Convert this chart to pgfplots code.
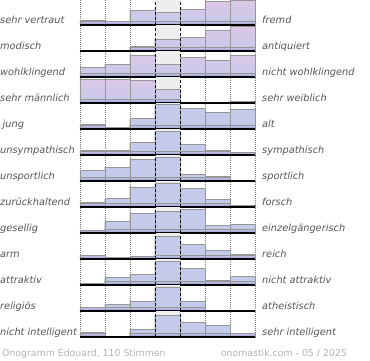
\documentclass[border=0pt]{standalone}
\usepackage{pgfplots}
\pgfplotsset{compat=1.18}
\usepackage{fontspec}
\setmainfont{DejaVu Sans}
\definecolor{centerbg}{RGB}{238,238,238}
\definecolor{barblue}{RGB}{196,202,234}
\definecolor{barpink}{RGB}{224,198,230}
\definecolor{stripe}{RGB}{150,140,198}
\definecolor{edge}{RGB}{150,150,150}
\definecolor{dotc}{RGB}{120,120,120}
\definecolor{lbl}{RGB}{85,85,85}
\definecolor{foot}{RGB}{178,178,178}
\newcommand{\lblfont}{\fontsize{9.8}{11}\selectfont\itshape}
\pgfplotsset{rowax/.style={anchor=south west, width=175pt, height=26pt, scale only axis,
  xmin=0, xmax=7, ymin=0, ymax=26, axis line style={draw=none}, xtick=\empty, ytick=\empty,
  clip=false}}
\newcommand{\rowaxis}[5]{%
\begin{axis}[rowax, at={(80pt,-#1pt)}]
 \fill[centerbg] (axis cs:3,0) rectangle (axis cs:4,26);
 \draw[dotc, dash pattern=on 0.8pt off 1.2pt] (axis cs:0,0) -- (axis cs:0,26);
 \draw[dotc, dash pattern=on 0.8pt off 1.2pt] (axis cs:1,0) -- (axis cs:1,26);
 \draw[dotc, dash pattern=on 0.8pt off 1.2pt] (axis cs:2,0) -- (axis cs:2,26);
 \draw[dotc, dash pattern=on 0.8pt off 1.2pt] (axis cs:5,0) -- (axis cs:5,26);
 \draw[dotc, dash pattern=on 0.8pt off 1.2pt] (axis cs:6,0) -- (axis cs:6,26);
 \draw[dotc, dash pattern=on 0.8pt off 1.2pt] (axis cs:7,0) -- (axis cs:7,26);
 \addplot[ybar, bar width=25pt, bar shift=0pt, draw=edge, line width=0.5pt,
   path picture={\fill[path picture={}, top color=#5, bottom color=barblue] (rel axis cs:0,0) rectangle (rel axis cs:1,1);
     \fill[path picture={}, top color=barblue, bottom color=stripe] (rel axis cs:0,0) rectangle (rel axis cs:1,0.14);}]
   coordinates {#4};
 \draw[black, line width=0.8pt, dash pattern=on 3pt off 2pt] (axis cs:3,0) -- (axis cs:3,26);
 \draw[black, line width=0.8pt, dash pattern=on 3pt off 2pt] (axis cs:4,0) -- (axis cs:4,26);
 \draw[black, line width=1.3pt] (axis cs:0,0) -- (axis cs:7,0);
 \node[anchor=base west, font=\lblfont, text=lbl, inner sep=0pt] at ([xshift=-80pt, yshift=1.5pt]rel axis cs:0,0) {#2};
 \node[anchor=base west, font=\lblfont, text=lbl, inner sep=0pt] at ([xshift=7pt, yshift=1.5pt]rel axis cs:1,0) {#3};
\end{axis}}
\begin{document}
\begin{tikzpicture}
\useasboundingbox (0pt,0pt) rectangle (370pt,-360pt);
\rowaxis{25}{sehr vertraut}{fremd}{(0.5,5) (1.5,4) (2.5,14.3) (3.5,12.3) (4.5,15.3) (5.5,24) (6.5,25)}{barpink}
\rowaxis{51}{modisch}{antiquiert}{(0.5,0) (1.5,0) (2.5,4.3) (3.5,11.7) (4.5,13.7) (5.5,20.7) (6.5,24.3)}{barpink}
\rowaxis{77}{wohlklingend}{nicht wohlklingend}{(0.5,9.7) (1.5,13) (2.5,22) (3.5,13) (4.5,19.7) (5.5,16.3) (6.5,22)}{barpink}
\rowaxis{103}{sehr männlich}{sehr weiblich}{(0.5,23.3) (1.5,23.3) (2.5,22.3) (3.5,14) (4.5,0) (5.5,0) (6.5,1.3)}{barpink}
\rowaxis{129}{\hspace*{2.5pt}jung}{alt}{(0.5,4.3) (1.5,2) (2.5,10.3) (3.5,24.3) (4.5,21) (5.5,17) (6.5,19.3)}{barblue}
\rowaxis{155}{unsympathisch}{sympathisch}{(0.5,5) (1.5,5) (2.5,12.7) (3.5,24) (4.5,10.3) (5.5,5) (6.5,2.3)}{barblue}
\rowaxis{181}{unsportlich}{sportlich}{(0.5,10.3) (1.5,14) (2.5,22) (3.5,23.7) (4.5,6.3) (5.5,5) (6.5,1)}{barblue}
\rowaxis{207}{zurückhaltend}{forsch}{(0.5,4.7) (1.5,9) (2.5,20) (3.5,23.3) (4.5,18.3) (5.5,7.7) (6.5,1.3)}{barblue}
\rowaxis{233}{gesellig}{einzelgängerisch}{(0.5,3) (1.5,11.3) (2.5,19.3) (3.5,21.3) (4.5,23.7) (5.5,7.3) (6.5,8.3)}{barblue}
\rowaxis{259}{arm}{reich}{(0.5,4) (1.5,1.3) (2.5,2.3) (3.5,23) (4.5,14.7) (5.5,9) (6.5,4.7)}{barblue}
\rowaxis{285}{attraktiv}{nicht attraktiv}{(0.5,1.7) (1.5,7.3) (2.5,10.7) (3.5,23.5) (4.5,16.7) (5.5,4.3) (6.5,8.3)}{barblue}
\rowaxis{311}{religiös}{atheistisch}{(0.5,3.3) (1.5,6.7) (2.5,9.3) (3.5,23.3) (4.5,9.3) (5.5,0) (6.5,1)}{barblue}
\rowaxis{337}{nicht intelligent}{sehr intelligent}{(0.5,4.3) (1.5,0) (2.5,7.7) (3.5,21.3) (4.5,14.3) (5.5,11.3) (6.5,3.3)}{barblue}
\node[anchor=base west, inner sep=0pt, text=foot, font=\fontsize{9.35}{11}\selectfont] at (2pt,-356pt) {Onogramm Edouard, 110 Stimmen};
\node[anchor=base east, inner sep=0pt, text=foot, font=\fontsize{9.35}{11}\selectfont] at (347pt,-356pt) {onomastik.com - 05 / 2025};
\end{tikzpicture}
\end{document}
